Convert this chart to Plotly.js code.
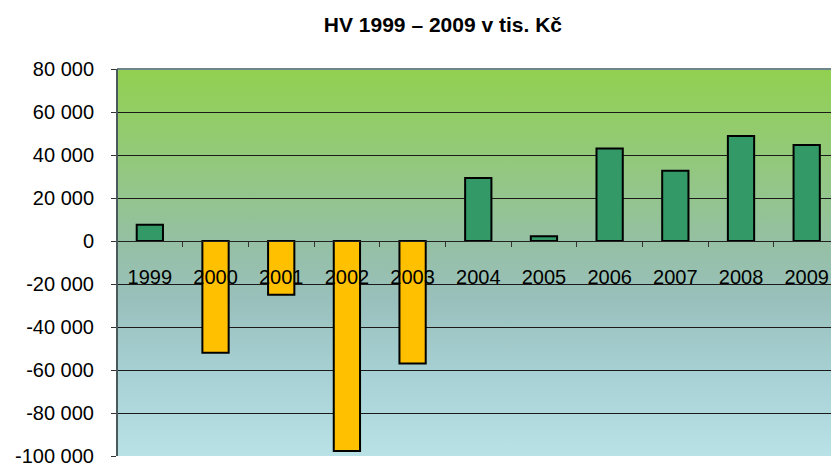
<!DOCTYPE html>
<html>
<head>
<meta charset="utf-8">
<script src="https://cdn.plot.ly/plotly-3.0.1.min.js"></script>
<style>html,body{margin:0;padding:0;background:#fff;}#chart{width:831px;height:463px;}</style>
</head>
<body>
<div id="chart"></div>
<script>
const years = ['1999','2000','2001','2002','2003','2004','2005','2006','2007','2008','2009'];
const values = [7600, -52000, -25000, -97700, -57000, 29300, 2200, 43000, 32700, 48800, 44600];
const yTickVals = [80000, 60000, 40000, 20000, 0, -20000, -40000, -60000, -80000, -100000];
const yTickText = ['80 000','60 000','40 000','20 000','0','-20 000','-40 000','-60 000','-80 000','-100 000'];
const titleText = 'HV 1999 – 2009 v tis. Kč';

const barColors = values.map(v => v >= 0 ? '#339966' : '#FFC000');

const svg = '<svg xmlns="http://www.w3.org/2000/svg" width="100" height="100" preserveAspectRatio="none">' +
  '<defs><linearGradient id="g" x1="0" y1="0" x2="0" y2="1">' +
  '<stop offset="0" stop-color="#92D050"/>' +
  '<stop offset="0.25" stop-color="#93C87E"/>' +
  '<stop offset="0.45" stop-color="#95C0A4"/>' +
  '<stop offset="0.6" stop-color="#99C0BC"/>' +
  '<stop offset="0.78" stop-color="#A7D0D4"/>' +
  '<stop offset="1" stop-color="#B8E2E5"/>' +
  '</linearGradient></defs><rect width="100" height="100" fill="url(#g)"/></svg>';
const bgSrc = 'data:image/svg+xml;base64,' + btoa(svg);

const yMin = -100000, yMax = 80000;

const data = [{
  type: 'bar',
  x: years,
  y: values,
  width: 0.4,
  marker: {color: barColors, line: {color: '#000', width: 2}},
  hoverinfo: 'x+y'
}];

const layout = {
  width: 831, height: 463,
  margin: {l: 117, r: 0, t: 69, b: 7},
  paper_bgcolor: '#ffffff',
  plot_bgcolor: 'rgba(0,0,0,0)',
  showlegend: false,
  font: {family: 'Liberation Sans, Arial, sans-serif', color: '#000'},
  title: {text: '<b>' + titleText + '</b>', font: {size: 21, color: '#000'}, x: 0.533, xanchor: 'center', y: 0.947, yanchor: 'middle'},
  images: [{source: bgSrc, xref: 'paper', yref: 'paper', x: 0, y: 1, sizex: 1, sizey: 1, sizing: 'stretch', layer: 'below', xanchor: 'left', yanchor: 'top'}],
  xaxis: {
    type: 'category',
    range: [-0.5, 10.37],
    anchor: 'free',
    position: (0 - yMin) / (yMax - yMin),
    showline: true, linecolor: '#222', linewidth: 1,
    ticks: 'outside', tickson: 'boundaries', ticklen: 5, tickcolor: '#333', tickwidth: 1,
    ticklabelstandoff: 18,
    ticklabeloverflow: 'allow',
    tickfont: {size: 20, color: '#000'},
    showgrid: false, zeroline: false
  },
  yaxis: {
    range: [yMin, yMax],
    tickvals: yTickVals, ticktext: yTickText,
    ticks: 'outside', ticklen: 5, tickcolor: '#333',
    ticklabelstandoff: 13,
    ticklabeloverflow: 'allow',
    tickfont: {size: 20, color: '#000'},
    showgrid: true, gridcolor: '#1a1a1a', gridwidth: 1,
    zeroline: false,
    showline: false
  },
  shapes: [
    {type: 'line', xref: 'paper', yref: 'paper', x0: 0, x1: 1, y0: 1, y1: 1, line: {color: '#6E868B', width: 2}},
    {type: 'line', xref: 'paper', yref: 'paper', x0: 0, x1: 0, y0: 0, y1: 1, line: {color: '#4A5A5C', width: 2}}
  ]
};

Plotly.newPlot('chart', data, layout, {displayModeBar: false, staticPlot: true});
</script>
</body>
</html>
